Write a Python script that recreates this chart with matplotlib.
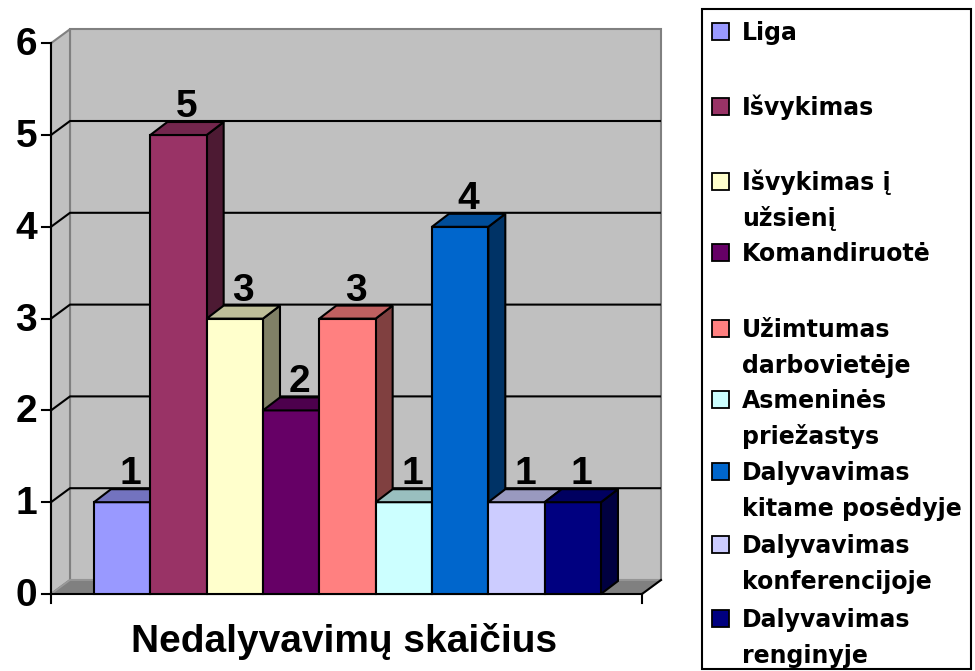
import matplotlib
matplotlib.use("Agg")
import matplotlib.pyplot as plt
from matplotlib.patches import Polygon, Rectangle
from matplotlib.colors import to_rgb

plt.rcParams['font.family'] = ['Liberation Sans', 'DejaVu Sans']

categories = ["Liga", "Išvykimas", "Išvykimas į\nužsienį", "Komandiruotė",
              "Užimtumas\ndarbovietėje", "Asmeninės\npriežastys",
              "Dalyvavimas\nkitame posėdyje", "Dalyvavimas\nkonferencijoje",
              "Dalyvavimas\nrenginyje"]
values = [1, 5, 3, 2, 3, 1, 4, 1, 1]
colors = ["#9999FF", "#993366", "#FFFFCC", "#660066", "#FF8080",
          "#CCFFFF", "#0066CC", "#CCCCFF", "#000080"]
yticks = [0, 1, 2, 3, 4, 5, 6]
xlabel = "Nedalyvavimų skaičius"

W, H = 975, 671
fig = plt.figure(figsize=(W / 100, H / 100), dpi=100)
ax = fig.add_axes([0, 0, 1, 1])
PX_X = 56.33   # px per category unit
PX_Y = 91.8    # px per value unit
X0PX, Y0PX = 94, 594
ax.set_xlim(-X0PX / PX_X, (W - X0PX) / PX_X)
ax.set_ylim((Y0PX - H) / PX_Y, Y0PX / PX_Y)
ax.axis('off')

def shade(c, f):
    r, g, b = to_rgb(c)
    return (r * f, g * f, b * f)

xa = -43 / PX_X          # front axis position
xb = len(values) + 41 / PX_X  # front right end of floor
wdx, wdy = 19 / PX_X, 14 / PX_Y
bdx, bdy = 17 / PX_X, 13 / PX_Y
vmax = yticks[-1]
wall = "#C0C0C0"
edge_gray = "#808080"

# walls and floor
ax.add_patch(Polygon([(xa + wdx, wdy), (xb + wdx, wdy), (xb + wdx, vmax + wdy), (xa + wdx, vmax + wdy)],
                     closed=True, facecolor=wall, edgecolor=edge_gray, lw=1.5, zorder=1))
ax.add_patch(Polygon([(xa, 0), (xa + wdx, wdy), (xa + wdx, vmax + wdy), (xa, vmax)],
                     closed=True, facecolor=wall, edgecolor=edge_gray, lw=1.5, zorder=1))
ax.add_patch(Polygon([(xa, 0), (xb, 0), (xb + wdx, wdy), (xa + wdx, wdy)],
                     closed=True, facecolor="#808080", edgecolor="#9a9a9a", lw=1.2, zorder=1))
# gridlines
for v in yticks[1:-1]:
    ax.plot([xa, xa + wdx, xb + wdx], [v, v + wdy, v + wdy], color="black", lw=1.5, zorder=2,
            solid_capstyle='butt')

# axes lines
tick_len_x = 9 / PX_X
tick_len_y = 9 / PX_Y
ax.plot([xa, xa], [0, vmax], color="black", lw=1.5, zorder=3)
for v in yticks:
    ax.plot([xa - tick_len_x, xa], [v, v], color="black", lw=1.5, zorder=3)
    ax.text(xa - 14 / PX_X, v - 12 / PX_Y, str(v), ha='right', va='baseline', fontsize=28,
            fontweight='bold', zorder=5)
ax.plot([xa, xb], [0, 0], color="black", lw=1.5, zorder=3)
ax.plot([xa, xa], [0, -tick_len_y], color="black", lw=1.5, zorder=3)
ax.plot([xb, xb], [0, -tick_len_y], color="black", lw=1.5, zorder=3)
ax.plot([xb, xb + wdx], [0, wdy], color="black", lw=1.5, zorder=3)

# bars
for i, (v, c) in enumerate(zip(values, colors)):
    z = 4 + i * 0.01
    ax.add_patch(Polygon([(i + 1, 0), (i + 1 + bdx, bdy), (i + 1 + bdx, v + bdy), (i + 1, v)],
                         closed=True, facecolor=shade(c, 0.5), edgecolor="black", lw=1.5, zorder=z))
    ax.add_patch(Rectangle((i, 0), 1, v, facecolor=c, edgecolor="black", lw=1.5, zorder=z + 0.001))
    ax.add_patch(Polygon([(i, v), (i + 1, v), (i + 1 + bdx, v + bdy), (i + bdx, v + bdy)],
                         closed=True, facecolor=shade(c, 0.75), edgecolor="black", lw=1.5, zorder=z + 0.002))
    ax.text(i + 0.5 + bdx / 2, v + bdy + 5 / PX_Y, str(v), ha='center', va='baseline',
            fontsize=28, fontweight='bold', zorder=6)

# x label
ax.text((344 - X0PX) / PX_X, (Y0PX - 652) / PX_Y, xlabel, ha='center', va='baseline',
        fontsize=28, fontweight='bold')

# legend (pixel-based placement in figure coordinates)
def fx(px):
    return px / W

def fy(py):
    return 1 - py / H

fig.patches.append(Rectangle((fx(702), fy(669)), fx(971) - fx(702), fy(9) - fy(669),
                             transform=fig.transFigure, facecolor="white", edgecolor="black",
                             lw=1.5, zorder=10))
leg_base = [40, 115, 190, 261, 337, 408, 480, 553, 627]
line_gap = 36
for lab, c, y in zip(categories, colors, leg_base):
    fig.patches.append(Rectangle((fx(712), fy(y)), 17 / W, 17 / H, transform=fig.transFigure,
                                 facecolor=c, edgecolor="black", lw=1.3, zorder=11))
    for k, line in enumerate(lab.split("\n")):
        fig.text(fx(742), fy(y + k * line_gap), line, ha='left', va='baseline',
                 fontsize=17, fontweight='bold', family='DejaVu Sans', zorder=12)

fig.savefig("out.png", dpi=100, facecolor="white")
